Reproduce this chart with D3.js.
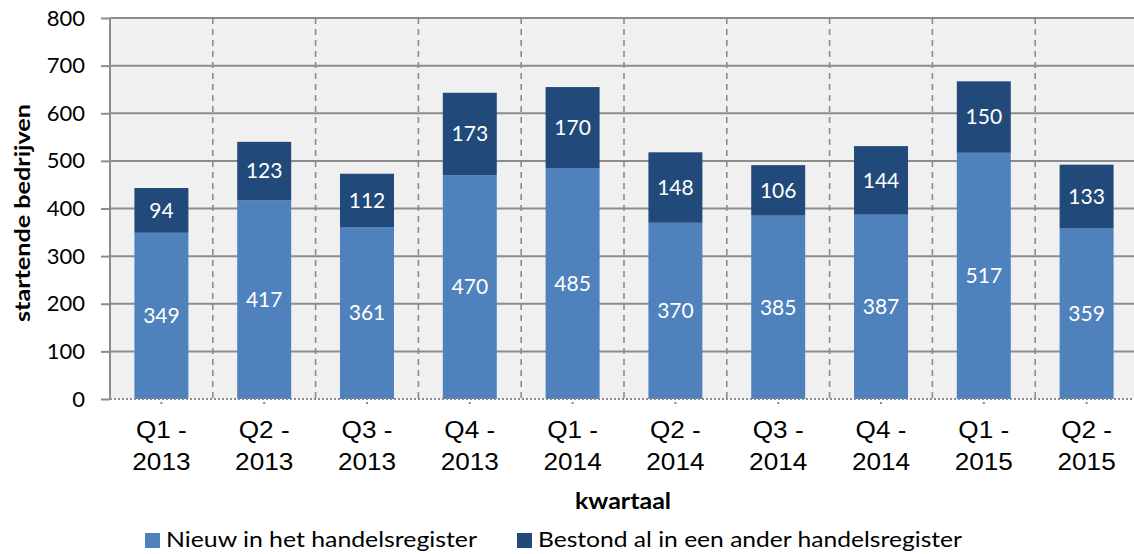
<!DOCTYPE html>
<html>
<head>
<meta charset="utf-8">
<script src="https://cdn.jsdelivr.net/npm/d3@7"></script>
<style>
  body { margin: 0; background: #fff; }
  svg { display: block; }
</style>
</head>
<body>
<div id="chart"></div>
<script>
'use strict';

// Quarters (two-line tick labels)
var quarters = ['Q1 - 2013', 'Q2 - 2013', 'Q3 - 2013', 'Q4 - 2013', 'Q1 - 2014',
                'Q2 - 2014', 'Q3 - 2014', 'Q4 - 2014', 'Q1 - 2015', 'Q2 - 2015'];
var nieuw = [349, 417, 361, 470, 485, 370, 385, 387, 517, 359];
var bestond = [94, 123, 112, 173, 170, 148, 106, 144, 150, 133];
var seriesNames = ['Nieuw in het handelsregister', 'Bestond al in een ander handelsregister'];
var colors = ['#4f81bd', '#214a7b'];
var yTicks = [0, 100, 200, 300, 400, 500, 600, 700, 800];

var width = 1134, height = 554;
var margin = { left: 110, right: -4, top: 18, bottom: 155 };
var plotW = width - margin.left - margin.right;
var plotH = height - margin.top - margin.bottom;

var svg = d3.select('#chart').append('svg')
    .attr('width', width).attr('height', height);

var x = d3.scaleBand().domain(quarters).range([0, plotW]).paddingInner(0.475).paddingOuter(0.2375);
var band = d3.scaleBand().domain(quarters).range([0, plotW]);
var y = d3.scaleLinear().domain([0, 800]).range([plotH, 0]);

var g = svg.append('g').attr('transform', 'translate(' + margin.left + ',' + margin.top + ')');

// plot background
g.append('rect').attr('width', plotW).attr('height', plotH).attr('fill', '#f0f0f0');

// horizontal gridlines
g.selectAll('.grid').data(yTicks.slice(1)).enter().append('line')
    .attr('x1', 0).attr('x2', plotW)
    .attr('y1', function (d) { return y(d); }).attr('y2', function (d) { return y(d); })
    .attr('stroke', '#8c8c8c').attr('stroke-width', 2);

// dashed separators between quarters
g.selectAll('.sep').data(quarters.slice(1)).enter().append('line')
    .attr('x1', function (d) { return band(d); }).attr('x2', function (d) { return band(d); })
    .attr('y1', 0).attr('y2', plotH)
    .attr('stroke', '#8c8c8c').attr('stroke-width', 1.6).attr('stroke-dasharray', '6,5');

// stacked bars
var stackData = quarters.map(function (q, i) { return { q: q, a: nieuw[i], b: bestond[i] }; });
var stacked = d3.stack().keys(['a', 'b'])(stackData);

var layers = g.selectAll('.layer').data(stacked).enter().append('g')
    .attr('fill', function (d, i) { return colors[i]; });

layers.selectAll('rect').data(function (d) { return d; }).enter().append('rect')
    .attr('x', function (d) { return x(d.data.q); })
    .attr('width', x.bandwidth())
    .attr('y', function (d) { return y(d[1]); })
    .attr('height', function (d) { return y(d[0]) - y(d[1]); });

layers.selectAll('text').data(function (d) { return d; }).enter().append('text')
    .attr('x', function (d) { return x(d.data.q) + x.bandwidth() / 2; })
    .attr('y', function (d) { return (y(d[0]) + y(d[1])) / 2; })
    .attr('dy', '0.35em')
    .attr('text-anchor', 'middle')
    .attr('fill', '#fff')
    .style('font-family', 'Lato, sans-serif')
    .style('font-size', '21px')
    .text(function (d) { return d[1] - d[0]; });

// y axis
var yAxis = g.append('g').call(d3.axisLeft(y).tickValues(yTicks).tickSize(9).tickPadding(16));
yAxis.select('.domain').attr('stroke', '#8c8c8c').attr('stroke-width', 2).attr('d', 'M0,0V' + plotH);
yAxis.selectAll('.tick line').attr('stroke', '#8c8c8c').attr('stroke-width', 2);
yAxis.selectAll('.tick text').attr('fill', '#000')
    .style('font-family', 'Lato, sans-serif').style('font-size', '22px');

// x axis: dotted baseline
g.append('line').attr('x1', 0).attr('x2', plotW).attr('y1', plotH).attr('y2', plotH)
    .attr('stroke', '#8c8c8c').attr('stroke-width', 2).attr('stroke-dasharray', '2,2');

var xAxis = g.append('g').attr('transform', 'translate(0,' + plotH + ')');
xAxis.selectAll('.tick').data(quarters).enter().append('g')
    .attr('transform', function (d) { return 'translate(' + (band(d) + band.bandwidth() / 2) + ',0)'; })
    .each(function (d) {
        var t = d3.select(this);
        t.append('line').attr('y1', 3).attr('y2', 7)
            .attr('stroke', '#8c8c8c').attr('stroke-width', 2).attr('stroke-dasharray', '2,2');
        var parts = d.split(' - ');
        var txt = t.append('text').attr('text-anchor', 'middle').attr('fill', '#000')
            .attr('transform', 'scale(1.09,1)')
            .style('font-family', '"Liberation Sans", Arial, sans-serif').style('font-size', '24px');
        txt.append('tspan').attr('x', 0).attr('y', 39).text(parts[0] + ' -');
        txt.append('tspan').attr('x', 0).attr('y', 71).text(parts[1]);
    });

// axis titles
svg.append('text')
    .attr('transform', 'translate(30,' + 213 + ') rotate(-90)')
    .attr('text-anchor', 'middle')
    .attr('textLength', 218).attr('lengthAdjust', 'spacingAndGlyphs')
    .style('font-family', 'Lato, sans-serif').style('font-size', '21px').style('font-weight', 'bold')
    .text('startende bedrijven');

svg.append('text')
    .attr('x', 623).attr('y', 509)
    .attr('text-anchor', 'middle')
    .attr('textLength', 96).attr('lengthAdjust', 'spacingAndGlyphs')
    .style('font-family', 'Lato, sans-serif').style('font-size', '22px').style('font-weight', 'bold')
    .text('kwartaal');

// legend
var legendX = [145, 517];
var legendLen = [311, 424];
var legend = svg.selectAll('.legend').data(seriesNames).enter().append('g')
    .attr('transform', function (d, i) { return 'translate(' + legendX[i] + ',533)'; });
legend.append('rect').attr('width', 15).attr('height', 15)
    .attr('fill', function (d, i) { return colors[i]; });
legend.append('text').attr('x', 21).attr('y', 14)
    .attr('textLength', function (d, i) { return legendLen[i]; }).attr('lengthAdjust', 'spacingAndGlyphs')
    .style('font-family', 'Lato, sans-serif').style('font-size', '21px')
    .text(function (d) { return d; });
</script>
</body>
</html>
